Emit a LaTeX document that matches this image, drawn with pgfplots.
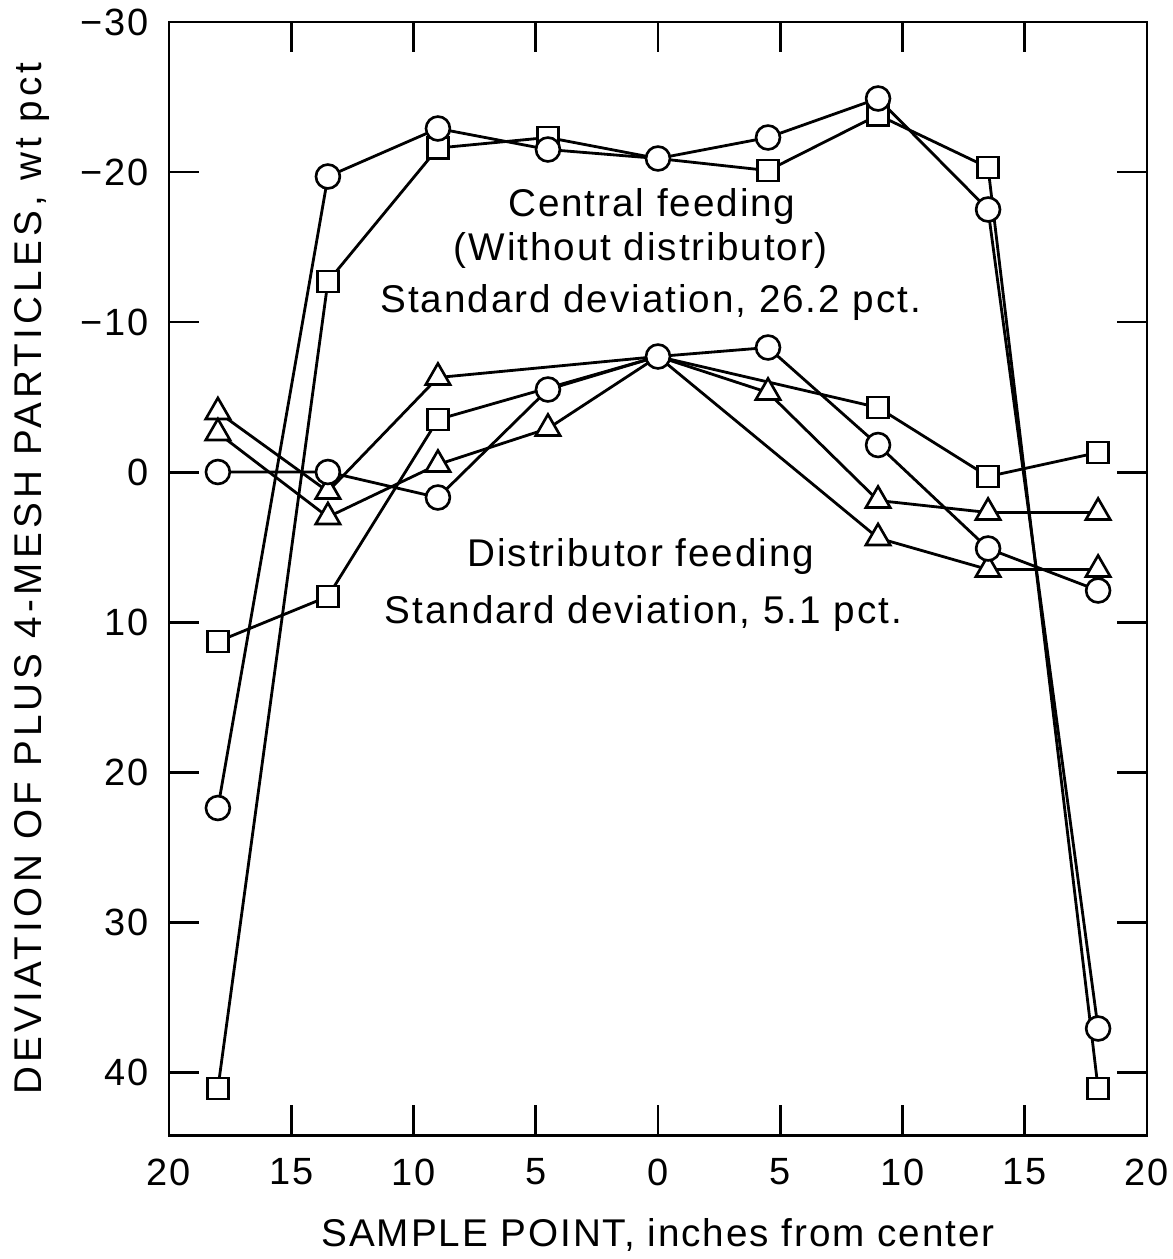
\documentclass[border=0pt]{standalone}
\usepackage{pgfplots}
\pgfplotsset{compat=1.18}
\usepackage{fontspec}
\setmainfont{Liberation Sans}[LetterSpace=5]
\newfontfamily\lblfont{Liberation Sans}[LetterSpace=11]

\begin{document}
\begin{tikzpicture}
\begin{axis}[
    scale only axis,
    width=97.8mm, height=111.3mm,
    xmin=-20, xmax=20,
    ymin=-30, ymax=44.2,
    y dir=reverse,
    clip=false,
    axis line style={line width=0.85pt},
    tick style={line width=0.85pt, black},
    tick align=inside,
    major tick length=3mm,
    xtick={-20,-15,...,20},
    xticklabels={20,15,10,5,0,5,10,15,20},
    ytick={-30,-20,...,40},
    yticklabels={−30,−20,−10,0,10,20,30,40},
    ticklabel style={font=\fontsize{10.8}{12}\selectfont},
    xticklabel style={anchor=center, yshift=-3.7mm},
    yticklabel style={anchor=east, inner sep=0pt, xshift=-2mm},
    xlabel={SAMPLE POINT, inches from center},
    ylabel={DEVIATION OF PLUS 4-MESH PARTICLES, wt pct},
    xlabel style={at={(axis description cs:0.5,-0.09)}, anchor=center,
        font=\fontsize{11}{13}\selectfont},
    ylabel style={at={(axis description cs:-0.14,0.5)}, anchor=center,
        font=\lblfont\fontsize{11}{13}\selectfont},
    every axis plot/.append style={black, line width=0.8pt,
        mark options={fill=white, solid, line width=0.75pt}},
]
% central feeding, squares (marker at 0 lies under the circle)
\addplot[mark=square*, mark size=3pt, mark indices={1,2,3,4,6,7,8,9}] coordinates {
(-18,41.1)(-13.5,-12.7)(-9,-21.6)(-4.5,-22.3)(0,-20.9)(4.5,-20.1)(9,-23.8)(13.5,-20.3)(18,41.1)};
% central feeding, circles
\addplot[mark=*, mark size=3.4pt] coordinates {
(-18,22.4)(-13.5,-19.7)(-9,-22.9)(-4.5,-21.5)(0,-20.9)(4.5,-22.3)(9,-24.9)(13.5,-17.5)(18,37.1)};

% distributor feeding
\addplot[mark=square*, mark size=3pt, mark indices={1,2,3,5,6,7}] coordinates {
(-18,11.3)(-13.5,8.3)(-9,-3.5)(0,-7.7)(9,-4.3)(13.5,0.3)(18,-1.3)};
\addplot[mark=triangle*, mark size=4pt, mark indices={1,2,3,5,6,7}] coordinates {
(-18,-4.0)(-13.5,1.3)(-9,-6.3)(0,-7.7)(9,4.4)(13.5,6.5)(18,6.5)};
\addplot[mark=triangle*, mark size=4pt, mark indices={1,2,3,4,6,7,8,9}] coordinates {
(-18,-2.6)(-13.5,3.0)(-9,-0.5)(-4.5,-2.9)(0,-7.7)(4.5,-5.3)(9,1.9)(13.5,2.7)(18,2.7)};
\addplot[mark=*, mark size=3.4pt] coordinates {
(-18,0)(-13.5,0)(-9,1.7)(-4.5,-5.5)(0,-7.7)(4.5,-8.3)(9,-1.8)(13.5,5.1)(18,7.9)};

\node[font=\fontsize{11}{13}\selectfont] at (axis cs:-0.25,-17.7) {Central feeding};
\node[font=\fontsize{11}{13}\selectfont] at (axis cs:-0.7,-14.8) {(Without distributor)};
\node[font=\fontsize{11}{13}\selectfont] at (axis cs:-0.3,-11.3) {Standard deviation, 26.2 pct.};
\node[font=\fontsize{11}{13}\selectfont] at (axis cs:-0.7,5.6) {Distributor feeding};
\node[font=\fontsize{11}{13}\selectfont] at (axis cs:-0.6,9.4) {Standard deviation, 5.1 pct.};

\coordinate (ll) at (rel axis cs:0,0);
\end{axis}
\pgfresetboundingbox
\path[use as bounding box] ([shift={(-16.9mm,-12.4mm)}]ll) rectangle ++(117.2mm,125.9mm);
\end{tikzpicture}
\end{document}
